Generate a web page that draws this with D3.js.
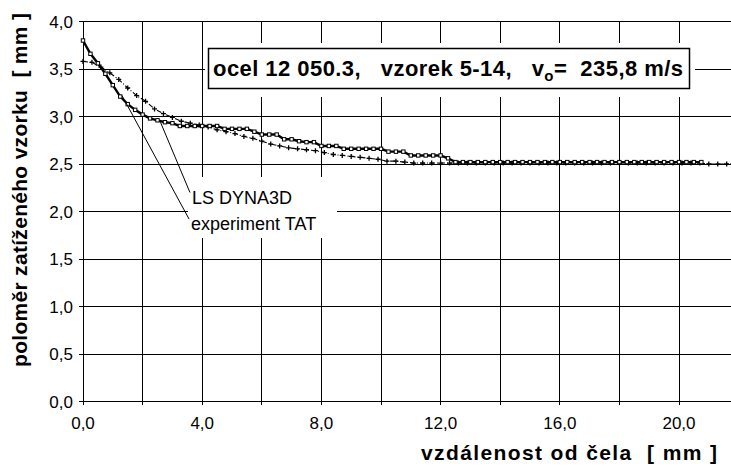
<html>
<head>
<script src="https://cdn.jsdelivr.net/npm/d3@7/dist/d3.min.js"></script>
<style>
  body { margin: 0; background: #fff; }
  svg text { font-family: Arial, "Liberation Sans", sans-serif; fill: #000; }
  .grid line { stroke: #000; stroke-width: 1; shape-rendering: crispEdges; }
  .ticklabel { font-size: 17px; }
  .title { font-size: 21px; font-weight: bold; }
  .note { font-size: 18px; }
</style>
</head>
<body>
<script>
// experiment TAT - stepped profile (squares)
var expX = [0, 0.25, 0.5, 0.75, 1, 1.25, 1.5, 1.75, 2, 2.25, 2.5, 2.75, 3, 3.25, 3.5, 3.75, 4, 4.25, 4.5, 4.75,
            5, 5.25, 5.5, 5.75, 6, 6.25, 6.5, 6.75, 7, 7.25, 7.5, 7.75, 8, 8.25, 8.5, 8.75, 9, 9.25, 9.5, 9.75,
            10, 10.25, 10.5, 10.75, 11, 11.25, 11.5, 11.75, 12, 12.25, 12.5, 12.75, 13, 13.25, 13.5, 13.75,
            14, 14.25, 14.5, 14.75, 15, 15.25, 15.5, 15.75, 16, 16.25, 16.5, 16.75, 17, 17.25, 17.5, 17.75,
            18, 18.25, 18.5, 18.75, 19, 19.25, 19.5, 19.75, 20, 20.25, 20.5, 20.75];
var expY = [3.80, 3.66, 3.56, 3.45, 3.33, 3.21, 3.13, 3.07, 3.02, 2.98, 2.96, 2.94, 2.93, 2.90, 2.90, 2.90, 2.90, 2.90, 2.90, 2.87,
            2.87, 2.87, 2.87, 2.84, 2.81, 2.81, 2.81, 2.76, 2.76, 2.74, 2.73, 2.73, 2.69, 2.69, 2.69, 2.66, 2.66, 2.66, 2.66, 2.66,
            2.66, 2.63, 2.63, 2.63, 2.59, 2.59, 2.59, 2.59, 2.59, 2.56, 2.52, 2.52, 2.52, 2.52, 2.52, 2.52,
            2.52, 2.52, 2.52, 2.52, 2.52, 2.52, 2.52, 2.52, 2.52, 2.52, 2.52, 2.52, 2.52, 2.52, 2.52, 2.52,
            2.52, 2.52, 2.52, 2.52, 2.52, 2.52, 2.52, 2.52, 2.52, 2.52, 2.52, 2.52];

// LS DYNA3D - simulation (dash-dot with crosses)
var dynX = [0, 0.3, 0.6, 0.9, 1.2, 1.5, 1.8, 2.1, 2.4, 2.7, 3, 3.3, 3.6, 3.9, 4.2, 4.5, 4.8, 5.1, 5.4, 5.7,
            6, 6.3, 6.6, 6.9, 7.2, 7.5, 7.8, 8.1, 8.4, 8.7, 9, 9.3, 9.6, 9.9, 10.2, 10.5, 10.8, 11.1, 11.4, 11.7,
            12, 12.3, 12.6, 12.9, 13.2, 13.5, 13.8, 14.1, 14.4, 14.7, 15, 15.3, 15.6, 15.9, 16.2, 16.5, 16.8,
            17.1, 17.4, 17.7, 18, 18.3, 18.6, 18.9, 19.2, 19.5, 19.8, 20.1, 20.4, 20.7, 21, 21.3, 21.6, 21.9];
var dynY = [3.58, 3.57, 3.52, 3.46, 3.39, 3.30, 3.22, 3.16, 3.08, 3.03, 2.99, 2.95, 2.93, 2.91, 2.89, 2.86, 2.84, 2.82, 2.79, 2.77,
            2.74, 2.71, 2.69, 2.67, 2.66, 2.65, 2.64, 2.62, 2.60, 2.59, 2.58, 2.57, 2.56, 2.55, 2.53, 2.53, 2.52, 2.51, 2.51, 2.51,
            2.51, 2.51, 2.51, 2.51, 2.51, 2.51, 2.51, 2.51, 2.51, 2.51, 2.51, 2.51, 2.51, 2.51, 2.51, 2.51, 2.51,
            2.51, 2.51, 2.51, 2.51, 2.51, 2.51, 2.51, 2.51, 2.51, 2.51, 2.51, 2.51, 2.51, 2.50, 2.50, 2.50, 2.50];

// axes
var xGrid = [0, 2, 4, 6, 8, 10, 12, 14, 16, 18, 20];
var xLabels = [0, 4, 8, 12, 16, 20];
var yTicks = [0, 0.5, 1, 1.5, 2, 2.5, 3, 3.5, 4];

// annotations: [label, point on curve (x,y), end near the label (x,y)]
var notes = [
    ["LS DYNA3D", [2.6, 2.94], [3.59, 2.20]],
    ["experiment TAT", [1.31, 3.22], [3.56, 1.92]]
];

var W = 731, H = 466;
var svg = d3.select("body").append("svg").attr("width", W).attr("height", H);

var x = d3.scaleLinear().domain([0, 22]).range([83, 738.6]);
var y = d3.scaleLinear().domain([0, 4]).range([401.5, 21.5]);
var loc = d3.formatLocale({decimal: ",", thousands: " ", grouping: [3], currency: ["", ""]});
var fmt = loc.format(".1f");

// grid
var grid = svg.append("g").attr("class", "grid");
grid.selectAll("line.h").data(yTicks).enter().append("line")
    .attr("x1", x(0) - 4).attr("x2", W)
    .attr("y1", function(d) { return y(d); }).attr("y2", function(d) { return y(d); });
grid.selectAll("line.v").data(xGrid).enter().append("line")
    .attr("x1", function(d) { return x(d); }).attr("x2", function(d) { return x(d); })
    .attr("y1", y(4)).attr("y2", y(0) + 3);

// tick labels
svg.selectAll("text.yl").data(yTicks).enter().append("text")
    .attr("class", "ticklabel")
    .attr("x", 73).attr("y", function(d) { return y(d); })
    .attr("dy", "0.36em").attr("text-anchor", "end")
    .text(fmt);
svg.selectAll("text.xl").data(xLabels).enter().append("text")
    .attr("class", "ticklabel")
    .attr("x", function(d) { return x(d); }).attr("y", 429)
    .attr("text-anchor", "middle")
    .text(fmt);

// titles
svg.append("text").attr("class", "title")
    .attr("transform", "translate(27," + ((13 + 367) / 2) + ") rotate(-90)")
    .attr("text-anchor", "middle")
    .attr("textLength", 354)
    .style("white-space", "pre")
    .text("poloměr zatíženého vzorku  [ mm ]");
svg.append("text").attr("class", "title")
    .attr("x", 421).attr("y", 460)
    .attr("textLength", 296)
    .style("white-space", "pre")
    .text("vzdálenost od čela  [ mm ]");

// series
var expData = d3.zip(expX, expY), dynData = d3.zip(dynX, dynY);
var line = d3.line().x(function(d) { return x(d[0]); }).y(function(d) { return y(d[1]); });

svg.append("path").datum(dynData)
    .attr("d", line).attr("fill", "none")
    .attr("stroke", "#000").attr("stroke-width", 1.1)
    .attr("stroke-dasharray", "5,2,1,2");
svg.selectAll("path.cross").data(dynData).enter().append("path")
    .attr("transform", function(d) { return "translate(" + x(d[0]) + "," + y(d[1]) + ")"; })
    .attr("d", "M-2.5,0H2.5M0,-2.5V2.5")
    .attr("stroke", "#000").attr("stroke-width", 1.3);

svg.append("path").datum(expData)
    .attr("d", line).attr("fill", "none")
    .attr("stroke", "#000").attr("stroke-width", 2.4);
svg.selectAll("rect.sq").data(expData).enter().append("rect")
    .attr("x", function(d) { return x(d[0]) - 1.7; })
    .attr("y", function(d) { return y(d[1]) - 1.7; })
    .attr("width", 3.4).attr("height", 3.4)
    .attr("fill", "#fff").attr("stroke", "#000").attr("stroke-width", 1);

// annotations
svg.append("rect").attr("x", 188).attr("y", 177).attr("width", 149).attr("height", 61).attr("fill", "#fff");
svg.selectAll("line.lead").data(notes).enter().append("line")
    .attr("x1", function(d) { return x(d[1][0]); }).attr("y1", function(d) { return y(d[1][1]); })
    .attr("x2", function(d) { return x(d[2][0]); }).attr("y2", function(d) { return y(d[2][1]); })
    .attr("stroke", "#000").attr("stroke-width", 1);
svg.selectAll("text.note").data(notes).enter().append("text")
    .attr("class", "note")
    .attr("x", function(d) { return x(d[2][0]) + 2; })
    .attr("y", function(d) { return y(d[2][1]) + 11; })
    .text(function(d) { return d[0]; });

// title box
svg.append("rect").attr("x", 205).attr("y", 43).attr("width", 490).attr("height", 54).attr("fill", "#fff");
svg.append("rect").attr("x", 208.5).attr("y", 48.5).attr("width", 481).attr("height", 40)
    .attr("fill", "#fff").attr("stroke", "#000").attr("stroke-width", 1.5);
var bt = svg.append("text").attr("class", "title")
    .attr("x", 213).attr("y", 76)
    .attr("textLength", 470)
    .style("font-size", "22px")
    .style("white-space", "pre");
bt.append("tspan").text("ocel 12 050.3,   vzorek 5-14,   v");
bt.append("tspan").attr("dy", 5).style("font-size", "15px").text("o");
bt.append("tspan").attr("dy", -5).text("=  235,8 m/s");
</script>
</body>
</html>
